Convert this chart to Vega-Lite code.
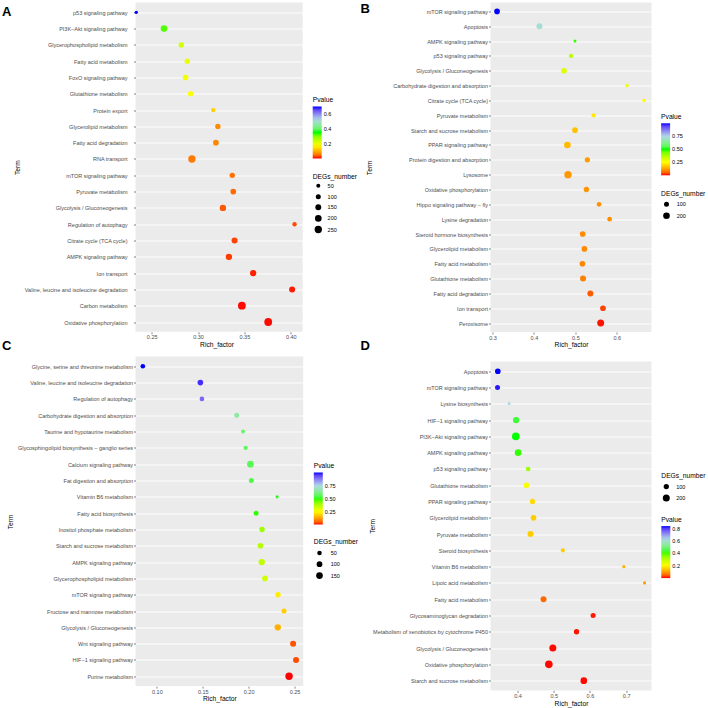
{
  "$schema": "https://vega.github.io/schema/vega-lite/v6.json",
  "padding": {"left": 1.5, "top": 1.5, "right": 0, "bottom": 0},
  "autosize": {"type": "pad"},
  "background": "white",
  "datasets": {
    "A": [
      {"Term": "p53 signaling pathway", "Rich_factor": 0.2334, "Pvalue": 0.70, "DEGs_number": 21},
      {"Term": "PI3K−Akt signaling pathway", "Rich_factor": 0.2633, "Pvalue": 0.33, "DEGs_number": 202},
      {"Term": "Glycerophospholipid metabolism", "Rich_factor": 0.2819, "Pvalue": 0.228, "DEGs_number": 116},
      {"Term": "Fatty acid metabolism", "Rich_factor": 0.2884, "Pvalue": 0.20, "DEGs_number": 116},
      {"Term": "FoxO signaling pathway", "Rich_factor": 0.2866, "Pvalue": 0.19, "DEGs_number": 136},
      {"Term": "Glutathione metabolism", "Rich_factor": 0.292, "Pvalue": 0.178, "DEGs_number": 116},
      {"Term": "Protein export", "Rich_factor": 0.3164, "Pvalue": 0.131, "DEGs_number": 64},
      {"Term": "Glycerolipid metabolism", "Rich_factor": 0.3214, "Pvalue": 0.066, "DEGs_number": 116},
      {"Term": "Fatty acid degradation", "Rich_factor": 0.3193, "Pvalue": 0.063, "DEGs_number": 136},
      {"Term": "RNA transport", "Rich_factor": 0.2934, "Pvalue": 0.054, "DEGs_number": 253},
      {"Term": "mTOR signaling pathway", "Rich_factor": 0.3369, "Pvalue": 0.047, "DEGs_number": 116},
      {"Term": "Pyruvate metabolism", "Rich_factor": 0.338, "Pvalue": 0.042, "DEGs_number": 136},
      {"Term": "Glycolysis / Gluconeogenesis", "Rich_factor": 0.3268, "Pvalue": 0.031, "DEGs_number": 179},
      {"Term": "Regulation of autophagy", "Rich_factor": 0.4041, "Pvalue": 0.023, "DEGs_number": 64},
      {"Term": "Citrate cycle (TCA cycle)", "Rich_factor": 0.3394, "Pvalue": 0.018, "DEGs_number": 157},
      {"Term": "AMPK signaling pathway", "Rich_factor": 0.3333, "Pvalue": 0.014, "DEGs_number": 179},
      {"Term": "Ion transport", "Rich_factor": 0.3595, "Pvalue": 0.005, "DEGs_number": 179},
      {"Term": "Valine, leucine and isoleucine degradation", "Rich_factor": 0.4015, "Pvalue": 0.0035, "DEGs_number": 157},
      {"Term": "Carbon metabolism", "Rich_factor": 0.3473, "Pvalue": 0.001, "DEGs_number": 290},
      {"Term": "Oxidative phosphorylation", "Rich_factor": 0.3757, "Pvalue": 0.001, "DEGs_number": 290}
    ],
    "B": [
      {"Term": "mTOR signaling pathway", "Rich_factor": 0.311, "Pvalue": 1.0, "DEGs_number": 137},
      {"Term": "Apoptosis", "Rich_factor": 0.4133, "Pvalue": 0.72, "DEGs_number": 158},
      {"Term": "AMPK signaling pathway", "Rich_factor": 0.499, "Pvalue": 0.49, "DEGs_number": 16},
      {"Term": "p53 signaling pathway", "Rich_factor": 0.4894, "Pvalue": 0.36, "DEGs_number": 67},
      {"Term": "Glycolysis / Gluconeogenesis", "Rich_factor": 0.4725, "Pvalue": 0.30, "DEGs_number": 137},
      {"Term": "Carbohydrate digestion and absorption", "Rich_factor": 0.6244, "Pvalue": 0.265, "DEGs_number": 39},
      {"Term": "Citrate cycle (TCA cycle)", "Rich_factor": 0.6653, "Pvalue": 0.25, "DEGs_number": 27},
      {"Term": "Pyruvate metabolism", "Rich_factor": 0.544, "Pvalue": 0.22, "DEGs_number": 67},
      {"Term": "Starch and sucrose metabolism", "Rich_factor": 0.499, "Pvalue": 0.167, "DEGs_number": 137},
      {"Term": "PPAR signaling pathway", "Rich_factor": 0.4807, "Pvalue": 0.158, "DEGs_number": 202},
      {"Term": "Protein digestion and absorption", "Rich_factor": 0.5289, "Pvalue": 0.118, "DEGs_number": 118},
      {"Term": "Lysosome", "Rich_factor": 0.4822, "Pvalue": 0.113, "DEGs_number": 251},
      {"Term": "Oxidative phosphorylation", "Rich_factor": 0.5265, "Pvalue": 0.11, "DEGs_number": 118},
      {"Term": "Hippo signaling pathway − fly", "Rich_factor": 0.557, "Pvalue": 0.105, "DEGs_number": 83},
      {"Term": "Lysine degradation", "Rich_factor": 0.5826, "Pvalue": 0.10, "DEGs_number": 83},
      {"Term": "Steroid hormone biosynthesis", "Rich_factor": 0.5176, "Pvalue": 0.095, "DEGs_number": 137},
      {"Term": "Glycerolipid metabolism", "Rich_factor": 0.5217, "Pvalue": 0.095, "DEGs_number": 137},
      {"Term": "Fatty acid metabolism", "Rich_factor": 0.5169, "Pvalue": 0.09, "DEGs_number": 137},
      {"Term": "Glutathione metabolism", "Rich_factor": 0.5184, "Pvalue": 0.083, "DEGs_number": 158},
      {"Term": "Fatty acid degradation", "Rich_factor": 0.5361, "Pvalue": 0.045, "DEGs_number": 158},
      {"Term": "Ion transport", "Rich_factor": 0.5665, "Pvalue": 0.025, "DEGs_number": 137},
      {"Term": "Peroxisome", "Rich_factor": 0.561, "Pvalue": 0.003, "DEGs_number": 226}
    ],
    "C": [
      {"Term": "Glycine, serine and threonine metabolism", "Rich_factor": 0.0847, "Pvalue": 1.0, "DEGs_number": 57},
      {"Term": "Valine, leucine and isoleucine degradation", "Rich_factor": 0.1474, "Pvalue": 0.97, "DEGs_number": 98},
      {"Term": "Regulation of autophagy", "Rich_factor": 0.1491, "Pvalue": 0.9, "DEGs_number": 57},
      {"Term": "Carbohydrate digestion and absorption", "Rich_factor": 0.187, "Pvalue": 0.66, "DEGs_number": 70},
      {"Term": "Taurine and hypotaurine metabolism", "Rich_factor": 0.1939, "Pvalue": 0.58, "DEGs_number": 34},
      {"Term": "Glycosphingolipid biosynthesis − ganglio series", "Rich_factor": 0.1968, "Pvalue": 0.57, "DEGs_number": 45},
      {"Term": "Calcium signaling pathway", "Rich_factor": 0.202, "Pvalue": 0.56, "DEGs_number": 148},
      {"Term": "Fat digestion and absorption", "Rich_factor": 0.203, "Pvalue": 0.547, "DEGs_number": 70},
      {"Term": "Vitamin B6 metabolism", "Rich_factor": 0.231, "Pvalue": 0.52, "DEGs_number": 10},
      {"Term": "Fatty acid biosynthesis", "Rich_factor": 0.2081, "Pvalue": 0.50, "DEGs_number": 70},
      {"Term": "Inositol phosphate metabolism", "Rich_factor": 0.2146, "Pvalue": 0.41, "DEGs_number": 84},
      {"Term": "Starch and sucrose metabolism", "Rich_factor": 0.2129, "Pvalue": 0.375, "DEGs_number": 98},
      {"Term": "AMPK signaling pathway", "Rich_factor": 0.2143, "Pvalue": 0.363, "DEGs_number": 130},
      {"Term": "Glycerophospholipid metabolism", "Rich_factor": 0.2179, "Pvalue": 0.34, "DEGs_number": 98},
      {"Term": "mTOR signaling pathway", "Rich_factor": 0.2321, "Pvalue": 0.24, "DEGs_number": 84},
      {"Term": "Fructose and mannose metabolism", "Rich_factor": 0.2386, "Pvalue": 0.2, "DEGs_number": 70},
      {"Term": "Glycolysis / Gluconeogenesis", "Rich_factor": 0.2318, "Pvalue": 0.162, "DEGs_number": 130},
      {"Term": "Wnt signaling pathway", "Rich_factor": 0.2485, "Pvalue": 0.057, "DEGs_number": 114},
      {"Term": "HIF−1 signaling pathway", "Rich_factor": 0.2517, "Pvalue": 0.052, "DEGs_number": 114},
      {"Term": "Purine metabolism", "Rich_factor": 0.2441, "Pvalue": 0.02, "DEGs_number": 190}
    ],
    "D": [
      {"Term": "Apoptosis", "Rich_factor": 0.3456, "Pvalue": 0.84, "DEGs_number": 118},
      {"Term": "mTOR signaling pathway", "Rich_factor": 0.3448, "Pvalue": 0.83, "DEGs_number": 84},
      {"Term": "Lysine biosynthesis", "Rich_factor": 0.3768, "Pvalue": 0.62, "DEGs_number": 5},
      {"Term": "HIF−1 signaling pathway", "Rich_factor": 0.3961, "Pvalue": 0.44, "DEGs_number": 157},
      {"Term": "PI3K−Akt signaling pathway", "Rich_factor": 0.3953, "Pvalue": 0.42, "DEGs_number": 247},
      {"Term": "AMPK signaling pathway", "Rich_factor": 0.4017, "Pvalue": 0.41, "DEGs_number": 178},
      {"Term": "p53 signaling pathway", "Rich_factor": 0.4293, "Pvalue": 0.336, "DEGs_number": 68},
      {"Term": "Glutathione metabolism", "Rich_factor": 0.4249, "Pvalue": 0.22, "DEGs_number": 118},
      {"Term": "PPAR signaling pathway", "Rich_factor": 0.4414, "Pvalue": 0.168, "DEGs_number": 100},
      {"Term": "Glycerolipid metabolism", "Rich_factor": 0.4442, "Pvalue": 0.153, "DEGs_number": 118},
      {"Term": "Pyruvate metabolism", "Rich_factor": 0.4359, "Pvalue": 0.153, "DEGs_number": 137},
      {"Term": "Steroid biosynthesis", "Rich_factor": 0.5251, "Pvalue": 0.15, "DEGs_number": 40},
      {"Term": "Vitamin B6 metabolism", "Rich_factor": 0.6936, "Pvalue": 0.126, "DEGs_number": 10},
      {"Term": "Lipoic acid metabolism", "Rich_factor": 0.7508, "Pvalue": 0.099, "DEGs_number": 10},
      {"Term": "Fatty acid metabolism", "Rich_factor": 0.4718, "Pvalue": 0.05, "DEGs_number": 137},
      {"Term": "Glycosaminoglycan degradation", "Rich_factor": 0.6088, "Pvalue": 0.004, "DEGs_number": 84},
      {"Term": "Metabolism of xenobiotics by cytochrome P450", "Rich_factor": 0.563, "Pvalue": 0.003, "DEGs_number": 100},
      {"Term": "Glycolysis / Gluconeogenesis", "Rich_factor": 0.4975, "Pvalue": 0.001, "DEGs_number": 200},
      {"Term": "Oxidative phosphorylation", "Rich_factor": 0.4865, "Pvalue": 0.001, "DEGs_number": 247},
      {"Term": "Starch and sucrose metabolism", "Rich_factor": 0.5831, "Pvalue": 0.001, "DEGs_number": 178}
    ]
  },
  "columns": 2,
  "align": "none",
  "center": true,
  "spacing": {"row": -9, "column": 0},
  "resolve": {
    "scale": {"x": "independent", "y": "independent", "color": "independent", "size": "independent"},
    "legend": {"color": "independent", "size": "independent"}
  },
  "concat": [
    {
      "data": {"name": "A"},
      "width": 167.2,
      "height": 329.3,
      "encoding": {
        "y": {"field": "Term", "type": "nominal", "sort": null, "scale": {"type": "point", "padding": 0.6}, "axis": {"title": "Term", "grid": true, "titlePadding": 3.5, "labelPadding": 6.5}}
      },
      "layer": [
        {
          "mark": {"type": "circle", "opacity": 0},
          "encoding": {
            "x": {"field": "Rich_factor", "type": "quantitative",
              "axis": {"orient": "top", "title": "A", "labels": false, "ticks": false, "domain": false, "grid": false, "titleX": -134, "titleY": 12.5, "titleAngle": 0, "titleAlign": "left", "titleAnchor": null, "titleBaseline": "alphabetic", "titleFontSize": 13, "titleFontWeight": "bold", "titleColor": "#000000"}}
          }
        },
        {
          "mark": {"type": "circle", "opacity": 1, "color": "#000000"},
          "encoding": {
            "x": {"field": "Rich_factor", "type": "quantitative",
              "scale": {"domain": [0.23253, 0.4129], "nice": false, "zero": false},
              "axis": {"orient": "bottom", "title": "Rich_factor", "titleX": 81, "values": [0.25, 0.275, 0.3, 0.325, 0.35, 0.375, 0.4],
                "labelExpr": "abs(datum.value*20-round(datum.value*20))<0.001 ? format(datum.value,'.2f') : ''",
                "gridWidth": {"condition": {"test": "abs(datum.value*20-round(datum.value*20))<0.001", "value": 0.9}, "value": 0.45},
                "tickOpacity": {"condition": {"test": "abs(datum.value*20-round(datum.value*20))<0.001", "value": 1}, "value": 0}}},
            "color": {"field": "Pvalue", "type": "quantitative",
              "scale": {"domain": [0, 0.175, 0.35, 0.525, 0.70], "range": ["#FF0000", "#FFFF00", "#00FF00", "#ADD8E6", "#0000FF"], "interpolate": "lab"},
              "legend": {"title": "Pvalue", "orient": "none", "legendX": 177.2, "legendY": 94.8, "direction": "vertical", "values": [0.2, 0.4, 0.6], "format": ".1f", "titlePadding": 2.5, "labelOffset": 2}},
            "size": {"field": "DEGs_number", "type": "quantitative",
              "scale": {"domain": [0, 300], "range": [7, 62.5], "zero": false},
              "legend": {"title": "DEGs_number", "orient": "none", "legendX": 177.2, "legendY": 171, "values": [50, 100, 150, 200, 250], "titlePadding": 2.9, "symbolOffset": 1.6, "labelOffset": 5.3, "rowPadding": 3.6, "symbolFillColor": "#000000", "symbolStrokeWidth": 0, "symbolType": "circle"}}
          }
        }
      ],
      "resolve": {"axis": {"x": "independent"}}
    },
    {
      "data": {"name": "B"},
      "width": 161,
      "height": 329.5,
      "encoding": {
        "y": {"field": "Term", "type": "nominal", "sort": null, "scale": {"type": "point", "padding": 0.6}, "axis": {"title": "Term", "grid": true, "titleX": -118.4}}
      },
      "layer": [
        {
          "mark": {"type": "circle", "opacity": 0},
          "encoding": {
            "x": {"field": "Rich_factor", "type": "quantitative",
              "axis": {"orient": "top", "title": "B", "labels": false, "ticks": false, "domain": false, "grid": false, "titleX": -130.4, "titleY": 9.6, "titleAngle": 0, "titleAlign": "left", "titleAnchor": null, "titleBaseline": "alphabetic", "titleFontSize": 13, "titleFontWeight": "bold", "titleColor": "#000000"}}
          }
        },
        {
          "mark": {"type": "circle", "opacity": 1, "color": "#000000"},
          "encoding": {
            "x": {"field": "Rich_factor", "type": "quantitative",
              "scale": {"domain": [0.2952, 0.6836], "nice": false, "zero": false},
              "axis": {"orient": "bottom", "title": "Rich_factor", "values": [0.3, 0.35, 0.4, 0.45, 0.5, 0.55, 0.6, 0.65],
                "labelExpr": "abs(datum.value*10-round(datum.value*10))<0.001 ? format(datum.value,'.1f') : ''",
                "gridWidth": {"condition": {"test": "abs(datum.value*10-round(datum.value*10))<0.001", "value": 0.9}, "value": 0.45},
                "tickOpacity": {"condition": {"test": "abs(datum.value*10-round(datum.value*10))<0.001", "value": 1}, "value": 0}}},
            "color": {"field": "Pvalue", "type": "quantitative",
              "scale": {"domain": [0, 0.25, 0.5, 0.75, 1.0], "range": ["#FF0000", "#FFFF00", "#00FF00", "#ADD8E6", "#0000FF"], "interpolate": "lab"},
              "legend": {"title": "Pvalue", "orient": "none", "legendX": 170.6, "legendY": 111.6, "direction": "vertical", "values": [0.25, 0.5, 0.75], "format": ".2f", "titlePadding": 2.5, "labelOffset": 2}},
            "size": {"field": "DEGs_number", "type": "quantitative",
              "scale": {"domain": [0, 300], "range": [6, 63], "zero": false},
              "legend": {"title": "DEGs_number", "orient": "none", "legendX": 170.6, "legendY": 188.4, "values": [100, 200], "titlePadding": 3.8, "symbolOffset": 1.9, "labelOffset": 6.7, "rowPadding": 3.9, "symbolFillColor": "#000000", "symbolStrokeWidth": 0, "symbolType": "circle"}}
          }
        }
      ],
      "resolve": {"axis": {"x": "independent"}}
    },
    {
      "data": {"name": "C"},
      "width": 167.7,
      "height": 329.6,
      "encoding": {
        "y": {"field": "Term", "type": "nominal", "sort": null, "scale": {"type": "point", "padding": 0.6}, "axis": {"title": "Term", "grid": true, "titlePadding": 3.5}}
      },
      "layer": [
        {
          "mark": {"type": "circle", "opacity": 0},
          "encoding": {
            "x": {"field": "Rich_factor", "type": "quantitative",
              "axis": {"orient": "top", "title": "C", "labels": false, "ticks": false, "domain": false, "grid": false, "titleX": -134, "titleY": -6.9, "titleAngle": 0, "titleAlign": "left", "titleAnchor": null, "titleBaseline": "alphabetic", "titleFontSize": 13, "titleFontWeight": "bold", "titleColor": "#000000"}}
          }
        },
        {
          "mark": {"type": "circle", "opacity": 1, "color": "#000000"},
          "encoding": {
            "x": {"field": "Rich_factor", "type": "quantitative",
              "scale": {"domain": [0.0767, 0.2595], "nice": false, "zero": false},
              "axis": {"orient": "bottom", "title": "Rich_factor", "values": [0.1, 0.125, 0.15, 0.175, 0.2, 0.225, 0.25],
                "labelExpr": "abs(datum.value*20-round(datum.value*20))<0.001 ? format(datum.value,'.2f') : ''",
                "gridWidth": {"condition": {"test": "abs(datum.value*20-round(datum.value*20))<0.001", "value": 0.9}, "value": 0.45},
                "tickOpacity": {"condition": {"test": "abs(datum.value*20-round(datum.value*20))<0.001", "value": 1}, "value": 0}}},
            "color": {"field": "Pvalue", "type": "quantitative",
              "scale": {"domain": [0.02, 0.265, 0.51, 0.755, 1.0], "range": ["#FF0000", "#FFFF00", "#00FF00", "#ADD8E6", "#0000FF"], "interpolate": "lab"},
              "legend": {"title": "Pvalue", "orient": "none", "legendX": 178.3, "legendY": 106.8, "direction": "vertical", "values": [0.25, 0.5, 0.75], "format": ".2f", "titlePadding": 2.5, "labelOffset": 2}},
            "size": {"field": "DEGs_number", "type": "quantitative",
              "scale": {"domain": [0, 200], "range": [7.5, 57.5], "zero": false},
              "legend": {"title": "DEGs_number", "orient": "none", "legendX": 178.3, "legendY": 182, "values": [50, 100, 150], "titlePadding": 5.1, "symbolOffset": 2.2, "labelOffset": 7.7, "rowPadding": 3.9, "symbolFillColor": "#000000", "symbolStrokeWidth": 0, "symbolType": "circle"}}
          }
        }
      ],
      "resolve": {"axis": {"x": "independent"}}
    },
    {
      "data": {"name": "D"},
      "width": 161,
      "height": 328.9,
      "encoding": {
        "y": {"field": "Term", "type": "nominal", "sort": null, "scale": {"type": "point", "padding": 0.6}, "axis": {"title": "Term", "grid": true, "titleX": -115}}
      },
      "layer": [
        {
          "mark": {"type": "circle", "opacity": 0},
          "encoding": {
            "x": {"field": "Rich_factor", "type": "quantitative",
              "axis": {"orient": "top", "title": "D", "labels": false, "ticks": false, "domain": false, "grid": false, "titleX": -130.4, "titleY": -11.6, "titleAngle": 0, "titleAlign": "left", "titleAnchor": null, "titleBaseline": "alphabetic", "titleFontSize": 13, "titleFontWeight": "bold", "titleColor": "#000000"}}
          }
        },
        {
          "mark": {"type": "circle", "opacity": 1, "color": "#000000"},
          "encoding": {
            "x": {"field": "Rich_factor", "type": "quantitative",
              "scale": {"domain": [0.3254, 0.770], "nice": false, "zero": false},
              "axis": {"orient": "bottom", "title": "Rich_factor", "values": [0.35, 0.4, 0.45, 0.5, 0.55, 0.6, 0.65, 0.7, 0.75],
                "labelExpr": "abs(datum.value*10-round(datum.value*10))<0.001 ? format(datum.value,'.1f') : ''",
                "gridWidth": {"condition": {"test": "abs(datum.value*10-round(datum.value*10))<0.001", "value": 0.9}, "value": 0.45},
                "tickOpacity": {"condition": {"test": "abs(datum.value*10-round(datum.value*10))<0.001", "value": 1}, "value": 0}}},
            "color": {"field": "Pvalue", "type": "quantitative",
              "scale": {"domain": [0, 0.21, 0.42, 0.63, 0.84], "range": ["#FF0000", "#FFFF00", "#00FF00", "#ADD8E6", "#0000FF"], "interpolate": "lab"},
              "legend": {"title": "Pvalue", "orient": "none", "legendX": 170.8, "legendY": 155.4, "direction": "vertical", "values": [0.2, 0.4, 0.6, 0.8], "format": ".1f", "titlePadding": 2.5, "labelOffset": 2}},
            "size": {"field": "DEGs_number", "type": "quantitative",
              "scale": {"domain": [0, 300], "range": [7.8, 69.6], "zero": false},
              "legend": {"title": "DEGs_number", "orient": "none", "legendX": 170.8, "legendY": 111.6, "values": [100, 200], "titlePadding": 3.8, "symbolOffset": 1.5, "labelOffset": 6.4, "rowPadding": 3.8, "symbolFillColor": "#000000", "symbolStrokeWidth": 0, "symbolType": "circle"}}
          }
        }
      ],
      "resolve": {"axis": {"x": "independent"}}
    }
  ],
  "config": {
    "font": "Liberation Sans",
    "view": {"fill": "#EBEBEB", "stroke": null},
    "axis": {"domain": false, "labelColor": "#4D4D4D", "labelFontSize": 5.5, "titleFontSize": 6.7, "titleFontWeight": "normal", "titleColor": "#000000", "tickColor": "#333333", "tickSize": 2, "tickWidth": 0.6, "gridColor": "#FFFFFF", "gridWidth": 0.9, "labelPadding": 1},
    "axisX": {"titlePadding": 1.2, "labelFlush": false, "labelOverlap": false},
    "legend": {"padding": 0, "titleFontSize": 6.7, "titleFontWeight": "normal", "titleColor": "#000000", "labelFontSize": 5.5, "labelColor": "#000000", "gradientThickness": 9, "gradientLength": 52, "gradientStrokeWidth": 0}
  }
}
